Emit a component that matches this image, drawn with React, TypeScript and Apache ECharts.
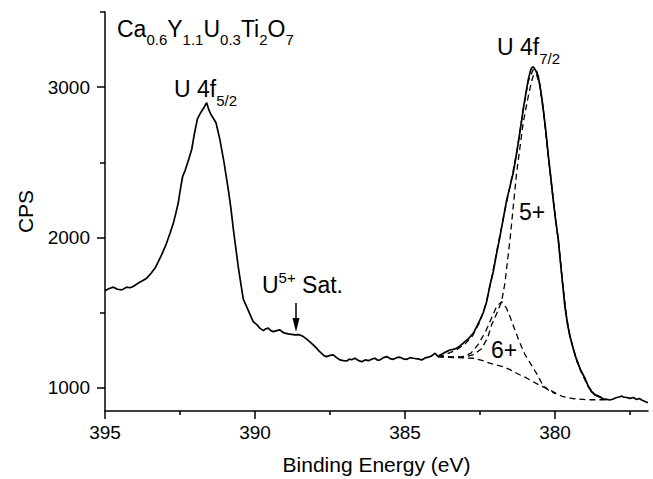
import React, { useEffect, useRef } from "react";
import * as echarts from "echarts";

const FONT = "'Liberation Sans', Arial, Helvetica, sans-serif";

// Axis ticks
const xMajor = [380, 385, 390, 395];
const xMinor = [377.5, 382.5, 387.5, 392.5];
const yMajor = [1000, 2000, 3000];
const yMinor = [1500, 2500, 3500];

// Measured spectrum (Binding energy eV, CPS)
const measured: [number, number][] = [
  [395.0, 1645], [394.86, 1660], [394.72, 1669], [394.58, 1655], [394.44, 1651],
  [394.28, 1669], [394.17, 1665], [394.06, 1673], [393.89, 1696], [393.75, 1712],
  [393.61, 1729], [393.47, 1760], [393.33, 1796], [393.22, 1840], [393.11, 1885],
  [392.97, 1950], [392.83, 2029], [392.72, 2096], [392.64, 2160], [392.56, 2229],
  [392.48, 2330], [392.41, 2407], [392.33, 2445], [392.24, 2500], [392.11, 2585],
  [392.02, 2690], [391.92, 2789], [391.85, 2815], [391.78, 2840], [391.7, 2865],
  [391.61, 2896], [391.54, 2850], [391.47, 2818], [391.38, 2790], [391.3, 2763],
  [391.17, 2651], [391.03, 2496], [390.89, 2318], [390.8, 2190], [390.72, 2051],
  [390.64, 1930], [390.56, 1807], [390.47, 1690], [390.39, 1590], [390.28, 1540],
  [390.17, 1490], [390.06, 1440], [389.94, 1420], [389.83, 1395], [389.72, 1380],
  [389.64, 1392], [389.56, 1396], [389.47, 1380], [389.39, 1373], [389.28, 1380],
  [389.17, 1385], [389.08, 1370], [389.0, 1363], [388.89, 1358], [388.78, 1355],
  [388.67, 1351], [388.58, 1353], [388.5, 1351], [388.39, 1340], [388.28, 1323],
  [388.17, 1305], [388.06, 1285], [387.94, 1262], [387.86, 1243], [387.78, 1229],
  [387.69, 1212], [387.61, 1207], [387.5, 1215], [387.39, 1218], [387.28, 1200],
  [387.17, 1185], [387.06, 1180], [386.94, 1178], [386.86, 1190], [386.78, 1186],
  [386.67, 1196], [386.56, 1182], [386.44, 1173], [386.33, 1185], [386.22, 1180],
  [386.11, 1190], [386.0, 1196], [385.92, 1183], [385.83, 1185], [385.72, 1200],
  [385.61, 1207], [385.5, 1194], [385.39, 1189], [385.28, 1200], [385.17, 1203],
  [385.06, 1192], [384.94, 1189], [384.83, 1200], [384.72, 1196], [384.58, 1192],
  [384.44, 1185], [384.33, 1198], [384.22, 1203], [384.11, 1212], [384.0, 1229],
  [383.89, 1207], [383.83, 1218], [383.67, 1235], [383.5, 1251], [383.39, 1255],
  [383.28, 1263], [383.17, 1278], [383.06, 1296], [382.89, 1325], [382.72, 1363],
  [382.61, 1407], [382.5, 1451], [382.39, 1500], [382.28, 1570], [382.17, 1680],
  [382.06, 1770], [381.94, 1900], [381.83, 2010], [381.72, 2130], [381.61, 2250],
  [381.5, 2340], [381.39, 2430], [381.28, 2560], [381.17, 2700], [381.06, 2850],
  [380.97, 2960], [380.89, 3051], [380.83, 3100], [380.78, 3129], [380.72, 3135],
  [380.64, 3110], [380.56, 3073], [380.5, 3007], [380.44, 2930], [380.39, 2851],
  [380.3, 2700], [380.22, 2540], [380.14, 2400], [380.06, 2251], [379.97, 2100],
  [379.89, 1985], [379.83, 1860], [379.75, 1700], [379.67, 1540], [379.58, 1420],
  [379.5, 1340], [379.39, 1260], [379.28, 1185], [379.14, 1115], [379.0, 1063],
  [378.89, 1010], [378.78, 973], [378.67, 955], [378.5, 940], [378.39, 925],
  [378.28, 922], [378.17, 918], [378.06, 925], [377.94, 935], [377.83, 940],
  [377.78, 945], [377.72, 938], [377.61, 935], [377.5, 929], [377.39, 935],
  [377.28, 922], [377.19, 928], [377.11, 918], [377.0, 908], [376.9, 900],
];

// Fitted background (dashed)
const background: [number, number][] = [
  [383.9, 1207], [383.5, 1202], [383.0, 1198], [382.73, 1196], [382.4, 1180],
  [382.2, 1165], [381.94, 1151], [381.72, 1140], [381.5, 1120], [381.28, 1096],
  [381.0, 1070], [380.73, 1040], [380.45, 1010], [380.17, 985], [379.95, 960],
  [379.73, 940], [379.4, 928], [378.94, 920], [378.3, 920],
];

// U6+ component (dashed)
const comp6: [number, number][] = [
  [383.9, 1207], [383.5, 1203], [383.1, 1205], [382.8, 1230], [382.55, 1290],
  [382.3, 1380], [382.1, 1470], [381.95, 1540], [381.78, 1573], [381.62, 1530],
  [381.5, 1473], [381.33, 1380], [381.17, 1298], [381.0, 1220], [380.83, 1165],
  [380.6, 1090], [380.4, 1015], [380.17, 975], [379.97, 960],
];

// U5+ component (dashed)
const comp5: [number, number][] = [
  [383.9, 1207], [383.4, 1203], [383.0, 1205], [382.7, 1220], [382.45, 1260],
  [382.25, 1330], [382.11, 1420], [381.95, 1490], [381.78, 1573], [381.67, 1696],
  [381.5, 1985], [381.28, 2429], [381.06, 2763], [380.89, 2940], [380.78, 3040],
  [380.7, 3090], [380.61, 3080], [380.5, 3007], [380.39, 2840], [380.22, 2535],
  [380.06, 2250], [379.89, 1980], [379.75, 1700], [379.67, 1540], [379.5, 1335],
  [379.28, 1180], [379.0, 1055], [378.78, 975], [378.55, 940], [378.3, 922],
];

// Fit envelope (dashed)
const envelope: [number, number][] = [
  [383.9, 1207], [383.6, 1225], [383.3, 1250], [383.0, 1290], [382.75, 1345],
  [382.5, 1440], [382.3, 1560], [382.11, 1730], [381.9, 1950], [381.7, 2150],
  [381.5, 2340], [381.28, 2560], [381.06, 2850], [380.89, 3040], [380.72, 3120],
  [380.61, 3110], [380.5, 3010], [380.39, 2850], [380.22, 2540], [380.06, 2251],
  [379.89, 1985], [379.75, 1700], [379.58, 1420], [379.39, 1255], [379.14, 1110],
  [378.89, 1005], [378.67, 950], [378.4, 925], [378.3, 920],
];

type Run = [string, number, number]; // text, font size, baseline y

let ctx: CanvasRenderingContext2D | null = null;
function measure(t: string, size: number): number {
  if (!ctx) ctx = document.createElement("canvas").getContext("2d");
  if (!ctx) return t.length * size * 0.55;
  ctx.font = `${size}px ${FONT}`;
  return ctx.measureText(t).width;
}

function runs(x0: number, parts: Run[]): any[] {
  const els: any[] = [];
  let x = x0;
  for (const [t, size, base] of parts) {
    els.push({
      type: "text",
      x,
      y: base - 0.35 * size,
      silent: true,
      style: {
        text: t,
        fontSize: size,
        fontFamily: FONT,
        fill: "#000",
        textAlign: "left",
        textVerticalAlign: "middle",
        align: "left",
        verticalAlign: "middle",
      },
    });
    x += measure(t, size);
  }
  return els;
}

const dashed = (name: string, data: [number, number][]) => ({
  name,
  type: "line",
  data,
  showSymbol: false,
  symbol: "none",
  smooth: false,
  z: 2,
  lineStyle: { color: "#000", width: 1.3, type: [6, 4] },
});

const plain = (v: number) => String(v);

export default function App() {
  const ref = useRef<HTMLDivElement>(null);
  useEffect(() => {
    if (!ref.current) return;
    const chart = echarts.init(ref.current, undefined, { renderer: "svg" });
    const M = 23;
    const S = 15;
    const graphics: any[] = [
      ...runs(117, [
        ["Ca", M, 37], ["0.6", S, 45], ["Y", M, 37], ["1.1", S, 45], ["U", M, 37],
        ["0.3", S, 45], ["Ti", M, 37], ["2", S, 45], ["O", M, 37], ["7", S, 45],
      ]),
      ...runs(174, [["U 4f", M, 97], ["5/2", S, 106]]),
      ...runs(497, [["U 4f", M, 55], ["7/2", S, 63.5]]),
      ...runs(519, [["5+", M, 220]]),
      ...runs(491, [["6+", M, 358]]),
      ...runs(262, [["U", M, 293], ["5+", S, 282.5], [" Sat.", M, 293]]),
      {
        type: "line",
        shape: { x1: 296, y1: 303, x2: 296, y2: 322 },
        style: { stroke: "#000", lineWidth: 1.5 },
        silent: true,
      },
      {
        type: "polygon",
        shape: { points: [[292.5, 318], [299.5, 318], [296, 332]] },
        style: { fill: "#000" },
        silent: true,
      },
    ];
    const axisLabelStyle = { fontSize: 19, color: "#000", fontFamily: FONT, formatter: plain };
    chart.setOption({
      animation: false,
      backgroundColor: "#fff",
      grid: { left: 105, right: 5, top: 12, bottom: 68, containLabel: false, outerBoundsMode: "none" },
      xAxis: [
        {
          type: "value",
          inverse: true,
          min: 376.9,
          max: 395,
          position: "bottom",
          name: "Binding Energy (eV)",
          nameLocation: "middle",
          nameGap: 43,
          nameTextStyle: { fontSize: 21, color: "#000", fontFamily: FONT },
          axisLine: { show: true, onZero: false, lineStyle: { color: "#000", width: 1.5 } },
          axisTick: { show: true, length: 8, customValues: xMajor, lineStyle: { color: "#000", width: 1.5 } },
          axisLabel: { ...axisLabelStyle, margin: 12, customValues: xMajor },
          splitLine: { show: false },
        },
        {
          type: "value",
          inverse: true,
          min: 376.9,
          max: 395,
          position: "bottom",
          axisLine: { show: false, onZero: false },
          axisTick: { show: true, length: 4, customValues: xMinor, lineStyle: { color: "#000", width: 1.5 } },
          axisLabel: { show: false },
          splitLine: { show: false },
        },
      ],
      yAxis: [
        {
          type: "value",
          min: 845,
          max: 3500,
          position: "left",
          name: "CPS",
          nameLocation: "middle",
          nameGap: 69,
          nameTextStyle: { fontSize: 21, color: "#000", fontFamily: FONT },
          axisLine: { show: true, onZero: false, lineStyle: { color: "#000", width: 1.5 } },
          axisTick: { show: true, length: 8, customValues: yMajor, lineStyle: { color: "#000", width: 1.5 } },
          axisLabel: { ...axisLabelStyle, margin: 15, customValues: yMajor },
          splitLine: { show: false },
        },
        {
          type: "value",
          min: 845,
          max: 3500,
          position: "left",
          axisLine: { show: false, onZero: false },
          axisTick: { show: true, length: 5, customValues: yMinor, lineStyle: { color: "#000", width: 1.5 } },
          axisLabel: { show: false },
          splitLine: { show: false },
        },
      ],
      series: [
        dashed("Background", background),
        dashed("U6+", comp6),
        dashed("U5+", comp5),
        dashed("Fit", envelope),
        {
          name: "Measured",
          type: "line",
          data: measured,
          showSymbol: false,
          symbol: "none",
          z: 3,
          lineStyle: { color: "#000", width: 1.7 },
        },
      ],
      graphic: { elements: graphics },
    });
    return () => chart.dispose();
  }, []);
  return (
    <div
      ref={ref}
      style={{ position: "fixed", left: 0, top: 0, width: 653, height: 479, background: "#fff" }}
    />
  );
}
